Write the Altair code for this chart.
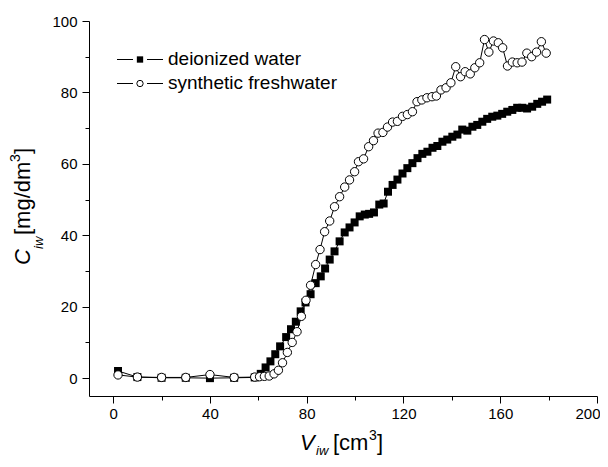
import altair as alt
import pandas as pd

# deionized water (filled squares)
di_v = [2, 10, 20, 30, 40, 50, 58.5, 61, 63, 65, 67, 69, 71.5, 73.5, 75.5, 77.5, 79.5, 81.6, 83.7,
        85.8, 87.6, 89.5, 91.5, 93.6, 95.7, 97.7, 99.8, 101.9, 104, 105.8, 107.8, 110, 111.8, 113.6,
        115.5, 117.5, 119.6, 121.6, 123.7, 125.8, 127.8, 129.9, 132, 134, 136.1, 138.1, 140.2, 142.3,
        144.3, 146.4, 148.5, 150.5, 152.6, 154.6, 156.7, 158.8, 160.8, 162.9, 165, 167, 169.1, 171.1,
        173.2, 175.3, 177.3, 179.4]
di_c = [2.0, 0.3, 0.1, 0.1, 0.0, 0.1, 0.2, 1.2, 3.0, 4.7, 6.7, 8.9, 11.5, 13.7, 15.8, 18.7, 21.2, 23.5, 26.6,
        28.5, 30.7, 33.2, 35.5, 38.3, 40.8, 42.2, 43.6, 45.3, 45.8, 46.0, 46.4, 48.6, 48.9, 52.2,
        54.1, 55.6, 57.3, 58.8, 60.2, 61.6, 62.8, 63.4, 64.5, 65.0, 66.2, 66.8, 67.6, 68.2,
        69.6, 69.3, 70.4, 70.9, 71.8, 72.6, 73.2, 73.5, 74.0, 74.6, 75.1, 75.7, 75.7, 75.5,
        76.0, 76.8, 77.4, 78.0]

# synthetic freshwater (open circles)
sf_v = [2, 10, 20, 30, 40, 50, 58.5, 60.5, 62.5, 64.5, 66.5, 68.3, 70, 72, 74, 76, 77.8, 79.7, 81.6,
        83.7, 85.5, 87.4, 89.5, 91.5, 93.6, 95.7, 97.7, 99.8, 101.4, 103.5, 105.6, 107.6, 109.5, 111.5,
        113.4, 115.5, 117.5, 119.6, 121.6, 123.7, 125.6, 127.6, 129.7, 131.8, 133.6, 135.5, 137.6,
        139.6, 141.6, 143.6, 145.5, 147.6, 149.5, 151.5, 153.5, 155.3, 157.2, 159.2, 161, 163, 165,
        167, 169, 171, 173, 175, 177, 179]
sf_c = [0.9, 0.3, 0.2, 0.2, 1.0, 0.2, 0.3, 0.4, 0.5, 0.6, 1.2, 2.2, 4.3, 7.2, 10.0, 13.0, 17.3, 21.8, 26.0,
        31.8, 36.0, 41.0, 44.0, 48.0, 50.8, 53.5, 55.5, 57.8, 60.6, 61.4, 64.8, 66.5, 68.6, 68.8,
        70.3, 71.7, 71.9, 73.3, 73.8, 74.6, 77.4, 77.9, 78.5, 78.8, 79.0, 80.7, 81.3,
        82.7, 87.2, 84.4, 85.8, 85.2, 86.9, 88.3, 94.8, 91.3, 94.4, 93.9, 92.5, 87.4, 88.5,
        88.3, 88.5, 91.0, 90.0, 91.3, 94.2, 91.0]

x_major = [0, 40, 80, 120, 160, 200]
x_minor = [20, 60, 100, 140, 180]
y_major = [0, 20, 40, 60, 80, 100]
y_minor = [10, 30, 50, 70, 90]
legend_labels = ["deionized water", "synthetic freshwater"]

FONT = "Liberation Sans"

di = pd.DataFrame({"v": di_v, "c": di_c})
sf = pd.DataFrame({"v": sf_v, "c": sf_c})
one = pd.DataFrame({"k": [0]})

xs = alt.Scale(domain=[-10, 200], nice=False, zero=False)
ys = alt.Scale(domain=[-5, 100], nice=False, zero=False)

ax_x = alt.Axis(values=x_major, title=None, orient="bottom", tickSize=7, labelFontSize=15,
                labelFont=FONT, labelColor="black", labelPadding=3, domainColor="black",
                tickColor="black", grid=False, labelFlush=True, labelFlushOffset=3)
ax_y = alt.Axis(values=y_major, title=None, orient="left", tickSize=7, labelFontSize=15,
                labelFont=FONT, labelColor="black", labelPadding=5, domainColor="black",
                tickColor="black", grid=False)
ax_x_min = alt.Axis(values=x_minor, title=None, orient="bottom", tickSize=4, labels=False,
                    domain=False, tickColor="black", grid=False)
ax_y_min = alt.Axis(values=y_minor, title=None, orient="left", tickSize=4, labels=False,
                    domain=False, tickColor="black", grid=False)

X = alt.X("v:Q", scale=xs, axis=ax_x)
Y = alt.Y("c:Q", scale=ys, axis=ax_y)

di_line = alt.Chart(di).mark_line(color="black", strokeWidth=1).encode(x=X, y=Y)
di_pts = alt.Chart(di).mark_point(shape="square", filled=True, size=64, color="black",
                                  opacity=1).encode(x=X, y=Y)
sf_line = alt.Chart(sf).mark_line(color="black", strokeWidth=1).encode(x=X, y=Y)
sf_pts = alt.Chart(sf).mark_point(shape="circle", filled=True, fill="white", stroke="black",
                                  strokeWidth=1, size=70, opacity=1).encode(x=X, y=Y)

minor = alt.Chart(di).mark_point(opacity=0).encode(
    x=alt.X("v:Q", scale=xs, axis=ax_x_min),
    y=alt.Y("c:Q", scale=ys, axis=ax_y_min))

def txt(s, x, y, size, italic=False, angle=0, align="left", baseline="alphabetic"):
    kw = dict(text=s, fontSize=size, font=FONT, color="black", align=align, baseline=baseline)
    if italic:
        kw["fontStyle"] = "italic"
    if angle:
        kw["angle"] = angle
    return alt.Chart(one).mark_text(**kw).encode(x=alt.value(x), y=alt.value(y))

# axis titles (positions relative to plot origin)
titles = [
    txt("V", 211, 429, 22, italic=True),
    txt("iw", 227, 434, 13, italic=True),
    txt("[cm", 244, 429, 22),
    txt("3", 280, 419, 14),
    txt("]", 288, 429, 22),
    txt("C", -59, 244, 22, italic=True, angle=270),
    txt("iw", -46, 228, 13, italic=True, angle=270),
    txt("[mg/dm", -59, 214, 22, angle=270),
    txt("3", -69, 141, 14, angle=270),
    txt("]", -59, 133, 22, angle=270),
]

def seg(x1, x2, y):
    return alt.Chart(one).mark_rule(color="black", strokeWidth=1).encode(
        x=alt.value(x1), x2=alt.value(x2), y=alt.value(y))

# legend
leg = [
    seg(28, 44, 38.5), seg(58, 74, 38.5),
    seg(28, 44, 62.5), seg(58, 74, 62.5),
    alt.Chart(one).mark_point(shape="square", filled=True, size=40, color="black", opacity=1).encode(
        x=alt.value(51), y=alt.value(38.5)),
    alt.Chart(one).mark_point(shape="circle", filled=True, fill="white", stroke="black",
                              strokeWidth=1, size=40, opacity=1).encode(
        x=alt.value(51), y=alt.value(62.5)),
    txt(legend_labels[0], 79, 38, 19, baseline="middle"),
    txt(legend_labels[1], 79, 62, 19, baseline="middle"),
]

main = alt.layer(di_line, di_pts, sf_line, sf_pts)
chart = alt.layer(main, minor, *titles, *leg).resolve_axis(x="independent", y="independent").properties(
    width=508, height=375,
    autosize=alt.AutoSizeParams(type="none"),
    padding={"left": 81, "top": 13, "right": 3, "bottom": 63},
).configure_view(stroke=None).configure_axis(domainWidth=1, tickWidth=1)

chart.save("out.html", embed_options={"renderer": "svg", "actions": False})
